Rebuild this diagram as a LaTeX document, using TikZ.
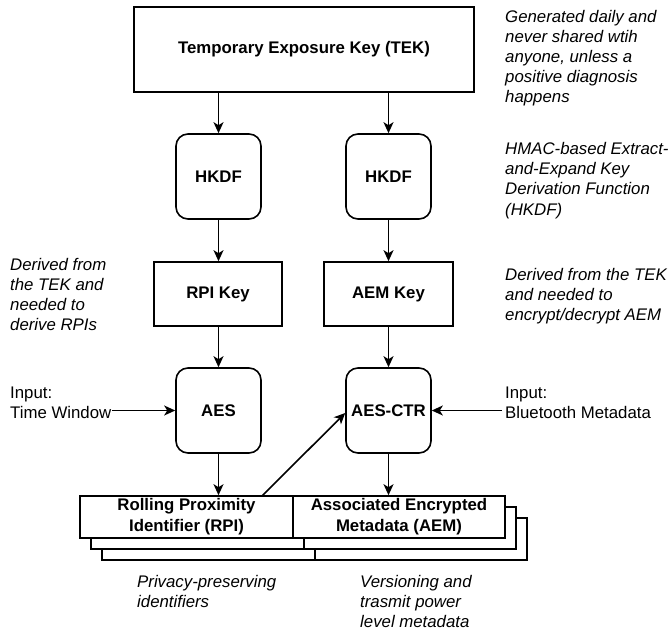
\documentclass[tikz,border=0pt]{standalone}
\usepackage{fontspec}
\setmainfont{Liberation Sans}
\usetikzlibrary{arrows.meta}
\newcommand\fsz{\fontsize{16.8bp}{20bp}\selectfont}
\newcommand\fszb{\fontsize{16.8bp}{21bp}\selectfont}

\tikzset{
  box/.style={draw, line width=1.6bp, fill=white, inner sep=0pt,
    align=center, font=\fszb\bfseries},
  rbox/.style={box, rounded corners=12bp, minimum width=85bp, minimum height=85bp},
  keybox/.style={box, minimum height=64bp},
  layer/.style={draw, line width=1.6bp, fill=white},
  note/.style={inner sep=0pt, align=left, anchor=base west, font=\fsz\itshape},
  plain/.style={inner sep=0pt, align=left, anchor=base west, font=\fsz},
  arr/.style={line width=1.6bp, -{Stealth[length=11bp, width=10bp, inset=3bp]}}
}

\begin{document}
\begin{tikzpicture}[x=1bp, y=-1bp]
\useasboundingbox (0,0) rectangle (669,631);

% main chain of boxes
\node[box, minimum width=340bp, minimum height=85bp] (tek) at (304,49.5)
  {Temporary Exposure Key (TEK)};
\node[rbox] (hkdfL) at (218.5,176.5) {HKDF};
\node[rbox] (hkdfR) at (388.5,176.5) {HKDF};
\node[keybox, minimum width=128bp] (rpikey) at (218,294) {RPI Key};
\node[keybox, minimum width=129bp] (aemkey) at (388.5,294) {AEM Key};
\node[rbox] (aes) at (218.5,410.5) {AES};
\node[rbox] (aesctr) at (388.5,410.5) {AES-CTR};

% stacked output records (back layers first)
\draw[layer] (102,518) rectangle (315,560);
\draw[layer] (315,518) rectangle (527,560);
\draw[layer] (91,507) rectangle (304,549);
\draw[layer] (304,507) rectangle (516,549);
\node[box, minimum width=213bp, minimum height=42bp] (rpi) at (186.5,517)
  {Rolling Proximity\\Identifier (RPI)};
\node[box, minimum width=212bp, minimum height=42bp] (aem) at (399,517)
  {Associated Encrypted\\Metadata (AEM)};

% connectors
\draw[arr] (hkdfL.north |- tek.south) -- (hkdfL.north);
\draw[arr] (hkdfR.north |- tek.south) -- (hkdfR.north);
\draw[arr] (hkdfL.south) -- (hkdfL.south |- rpikey.north);
\draw[arr] (hkdfR.south) -- (hkdfR.south |- aemkey.north);
\draw[arr] (aes.north |- rpikey.south) -- (aes.north);
\draw[arr] (aesctr.north |- aemkey.south) -- (aesctr.north);
\draw[arr] (aes.south) -- (aes.south |- rpi.north);
\draw[arr] (aesctr.south) -- (aesctr.south |- aem.north);
\coordinate (rpiout) at (262,496);
\draw[arr] (rpiout) -- ([yshift=-2.5bp]aesctr.west);
\coordinate (timein) at (112,410.5);
\coordinate (btin) at (502,410.5);
\draw[arr] (timein) -- (aes.west);
\draw[arr] (btin) -- (aesctr.east);

% annotations (each placed at the baseline of its last line)
\node[note] (n1) at (505,102.5) {Generated daily and\\never shared wtih\\anyone, unless a\\positive diagnosis\\happens};
\node[note] (n2) at (505,215) {HMAC-based Extract-\\and-Expand Key\\Derivation Function\\(HKDF)};
\node[note] (n3) at (505,320.5) {Derived from the TEK\\and needed to\\encrypt/decrypt AEM};
\node[note] (n4) at (10,330.5) {Derived from\\the TEK and\\needed to\\derive RPIs};
\node[plain] (in1) at (10,418.5) {Input:\\Time Window};
\node[plain] (in2) at (505,418.5) {Input:\\Bluetooth Metadata};
\node[note] (n5) at (137,607.5) {Privacy-preserving\\identifiers};
\node[note] (n6) at (360,627.5) {Versioning and\\trasmit power\\level metadata};
\end{tikzpicture}
\end{document}
